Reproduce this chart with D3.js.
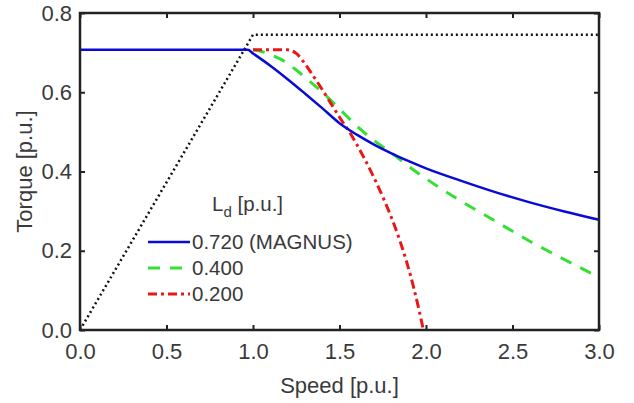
<!DOCTYPE html>
<html><head><meta charset="utf-8">
<script src="https://cdn.jsdelivr.net/npm/d3@7"></script>
<style>body{margin:0;background:#fff}svg{display:block}text{font-family:"Liberation Sans",Arial,sans-serif;fill:#3a3a3a}</style>
</head><body><svg id="c" width="634" height="403"></svg>
<script>
const xTicks = [0, 0.5, 1.0, 1.5, 2.0, 2.5, 3.0];
const yTicks = [0, 0.2, 0.4, 0.6, 0.8];
const limitSpeed = [0, 1.0, 3.0];
const limitTorque = [0, 0.745, 0.745];
const blueSpeed = [0, 0.97, 1.0, 1.1, 1.2, 1.3, 1.4, 1.5, 1.6, 1.7, 1.8, 1.9, 2.0, 2.2, 2.4, 2.6, 2.8, 3.0];
const blueTorque = [0.707, 0.707, 0.698, 0.667, 0.633, 0.597, 0.560, 0.522, 0.493, 0.468, 0.446, 0.426, 0.408, 0.377, 0.348, 0.322, 0.299, 0.278];
const greenSpeed = [1.0, 1.05, 1.1, 1.17, 1.25, 1.33, 1.4, 1.5, 1.6, 1.7, 1.8, 1.9, 2.0, 2.2, 2.4, 2.6, 2.8, 3.0];
const greenTorque = [0.707, 0.703, 0.695, 0.681, 0.656, 0.627, 0.600, 0.558, 0.515, 0.478, 0.447, 0.413, 0.382, 0.326, 0.275, 0.224, 0.178, 0.133];
const redSpeed = [1.0, 1.2, 1.25, 1.3, 1.35, 1.4, 1.45, 1.5, 1.56, 1.64, 1.7, 1.75, 1.8, 1.85, 1.89, 1.93, 1.96, 1.985];
const redTorque = [0.707, 0.707, 0.698, 0.672, 0.640, 0.607, 0.572, 0.537, 0.498, 0.436, 0.384, 0.336, 0.284, 0.224, 0.169, 0.105, 0.050, 0];
const legendLabels = ["0.720 (MAGNUS)", "0.400", "0.200"];

const svg = d3.select("#c");
const L = 80, R = 599, T = 13, B = 330;
const x = d3.scaleLinear().domain([0, 3]).range([L, R]);
const y = d3.scaleLinear().domain([0, 0.8]).range([B, T]);

const series = [
  {sx: limitSpeed, sy: limitTorque, color: "#111", w: 2.5, dash: "2,3", curve: d3.curveLinear},
  {sx: greenSpeed, sy: greenTorque, color: "#33e033", w: 3, dash: "12,10", curve: d3.curveMonotoneX},
  {sx: redSpeed, sy: redTorque, color: "#e81818", w: 3, dash: "9,4,3,4", curve: d3.curveMonotoneX},
  {sx: blueSpeed, sy: blueTorque, color: "#0a0ad8", w: 2.5, dash: null, curve: d3.curveMonotoneX}
];
series.forEach(s => {
  const pts = s.sx.map((v, i) => [v, s.sy[i]]);
  svg.append("path").datum(pts)
    .attr("d", d3.line().x(d => x(d[0])).y(d => y(d[1])).curve(s.curve))
    .attr("fill", "none").attr("stroke", s.color).attr("stroke-width", s.w)
    .attr("stroke-dasharray", s.dash);
});

const fmt = d3.format(".1f");
svg.append("g").attr("transform", `translate(0,${B})`)
  .call(d3.axisBottom(x).tickValues(xTicks).tickSizeInner(-5).tickSizeOuter(0).tickPadding(13).tickFormat(fmt));
svg.append("g").attr("transform", `translate(${L},0)`)
  .call(d3.axisLeft(y).tickValues(yTicks).tickSizeInner(-5).tickSizeOuter(0).tickPadding(8).tickFormat(fmt));
svg.append("g").attr("transform", `translate(0,${T})`)
  .call(d3.axisTop(x).tickValues(xTicks).tickSizeInner(-5).tickSizeOuter(0).tickFormat(""));
svg.append("g").attr("transform", `translate(${R},0)`)
  .call(d3.axisRight(y).tickValues(yTicks).tickSizeInner(-5).tickSizeOuter(0).tickFormat(""));
svg.selectAll(".domain").remove();
svg.selectAll(".tick line").attr("stroke", "#222").attr("stroke-width", 2);
svg.selectAll(".tick text").attr("font-size", 22).attr("fill", "#3a3a3a")
  .attr("font-family", '"Liberation Sans",Arial,sans-serif');
svg.append("rect").attr("x", L).attr("y", T).attr("width", R - L).attr("height", B - T)
  .attr("fill", "none").attr("stroke", "#222").attr("stroke-width", 2.5);

svg.append("text").attr("x", (L + R) / 2).attr("y", 393).attr("text-anchor", "middle")
  .attr("font-size", 22).text("Speed [p.u.]");
svg.append("text").attr("transform", `translate(32,${(T + B) / 2}) rotate(-90)`)
  .attr("text-anchor", "middle").attr("font-size", 22).text("Torque [p.u.]");

const lt = svg.append("text").attr("x", 212).attr("y", 211).attr("font-size", 20.5);
lt.append("tspan").text("L");
lt.append("tspan").attr("font-size", 15).attr("dy", 6).text("d");
lt.append("tspan").attr("dy", -6).text(" [p.u.]");
const legSeries = [series[3], series[1], series[2]];
legSeries.forEach((s, i) => {
  const yy = 242 + i * 26;
  svg.append("line").attr("x1", 148).attr("x2", 190).attr("y1", yy).attr("y2", yy)
    .attr("stroke", s.color).attr("stroke-width", s.w).attr("stroke-dasharray", s.dash);
  svg.append("text").attr("x", 192).attr("y", yy + 7).attr("font-size", 20.5).text(legendLabels[i]);
});
</script></body></html>
